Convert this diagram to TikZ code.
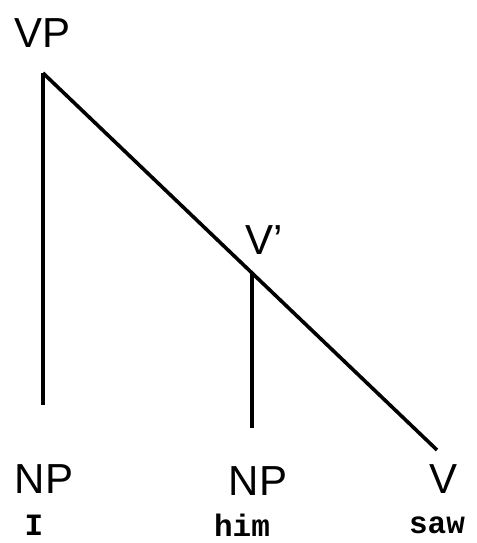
\documentclass[tikz,border=0pt]{standalone}
\usepackage{fontspec}
\setmainfont{Liberation Sans}
\newfontfamily\wordfont{Liberation Mono}

\begin{document}
\begin{tikzpicture}[
x=0.5pt,y=-0.5pt,
cat/.style={
inner sep=0pt,
font=\fontsize{21}{24}\selectfont
},
word/.style={
inner sep=0pt,
font=\wordfont\bfseries\fontsize{15.5}{18}\selectfont
},
branch/.style={
line width=1.8pt
}
]
\useasboundingbox (0,0) rectangle (477,543);

\node[cat] (VP) at (43,33)
{VP};

\node[cat] (Vbar) at (264,240)
{V'};

\node[cat] (NPa) at (44,479)
{NP};

\node[cat] (NPb) at (258,481)
{NP};

\node[cat] (V) at (444,479)
{V};

\node[word] (I) at (34,525)
{I};

\node[word] (him) at (242,525)
{him};

\node[word] (saw) at (437,525)
{saw};

\coordinate (top) at (43,73);
\coordinate (mid) at (252,272);
\coordinate (endI) at (43,405);
\coordinate (endhim) at (252,428);
\coordinate (endsaw) at (437,450);

\draw[branch] (top) -- (endI);
\draw[branch] (top) -- (endsaw);
\draw[branch] (mid) -- (endhim);

\end{tikzpicture}
\end{document}
